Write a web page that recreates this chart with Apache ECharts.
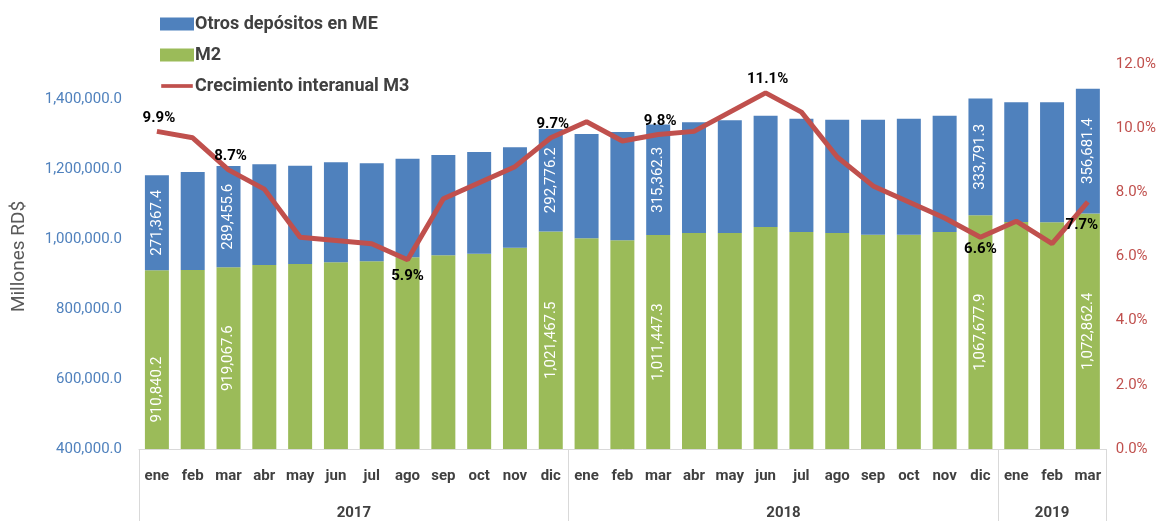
<!DOCTYPE html>
<html>
<head>
<meta charset="utf-8">
<script src="https://cdn.jsdelivr.net/npm/echarts@6/dist/echarts.min.js"></script>
<style>
  html, body { margin: 0; padding: 0; background: #ffffff; }
  #chart { width: 1159px; height: 521px; }
</style>
</head>
<body>
<div id="chart"></div>
<script>
// Monthly categories, grouped by year
const months = ['ene','feb','mar','abr','may','jun','jul','ago','sep','oct','nov','dic',
                'ene','feb','mar','abr','may','jun','jul','ago','sep','oct','nov','dic',
                'ene','feb','mar'];
const years = ['2017', '2018', '2019'];
const yearSizes = [12, 12, 3];

// M2 (millones RD$)
const m2 = [910840.2, 911400, 919067.6, 925700, 928600, 933400, 936300, 947700, 953400, 958000, 975100, 1021467.5,
            1002000, 996300, 1011447.3, 1017100, 1017100, 1034300, 1020000, 1017100, 1012400, 1012400, 1020000, 1067677.9,
            1048500, 1048000, 1072862.4];

// Otros depósitos en moneda extranjera (millones RD$)
const otrosME = [271367.4, 280000, 289455.6, 287700, 280800, 285700, 279900, 281700, 286600, 290600, 286900, 292776.2,
                 298000, 309400, 315362.3, 316200, 321900, 318100, 323800, 323700, 328400, 331400, 332400, 333791.3,
                 342000, 342500, 356681.4];

// Crecimiento interanual de M3 (%)
const crecimientoM3 = [9.9, 9.7, 8.7, 8.1, 6.6, 6.5, 6.4, 5.9, 7.8, 8.3, 8.8, 9.7,
                       10.2, 9.6, 9.8, 9.9, 10.5, 11.1, 10.5, 9.1, 8.2, 7.7, 7.2, 6.6,
                       7.1, 6.4, 7.7];

// Left and right axis ticks
const leftTicks = { min: 400000, max: 1500000, step: 200000 };
const rightTicks = { min: 0, max: 12, step: 2 };

// Which points carry value labels
const barLabelIdx = [0, 2, 11, 14, 23, 26];
const growthLabelPos = { 0: 'top', 2: 'top', 7: 'bottom', 11: 'top', 14: 'top', 17: 'top', 23: 'bottom', 26: 'bottom' };

const FONT = 'Roboto, "Open Sans", sans-serif';
const numFmt = new Intl.NumberFormat('en-US', { minimumFractionDigits: 1, maximumFractionDigits: 1 });

// Year group boundaries and centers on a continuous index scale
const bounds = [-0.5];
const centers = [];
let acc = 0;
yearSizes.forEach(n => { centers.push(acc + (n - 1) / 2); acc += n; bounds.push(acc - 0.5); });

function barData(values, extra) {
  return values.map((v, i) => {
    if (barLabelIdx.indexOf(i) < 0) return v;
    const item = { value: v, label: { show: true } };
    if (extra && extra[i]) Object.assign(item.label, extra[i]);
    return item;
  });
}

const lineData = crecimientoM3.map((v, i) => {
  const pos = growthLabelPos[i];
  if (!pos) return v;
  const item = { value: v, label: { show: true, position: pos } };
  if (pos === 'top') item.label.offset = [2, 0];
  if (i === 7) item.label.offset = [0, 3];
  if (i === 23) item.label.offset = [0, -2];
  if (i === 26) item.label.offset = [-6, 10];
  return item;
});

// Legend marker for the growth line: a thick stroke inside a 34x14 box
const lineIcon = 'path://M0,0 M0,5 L34,5 L34,9 L0,9 Z M34,14';

const chart = echarts.init(document.getElementById('chart'), null, { renderer: 'canvas' });

chart.setOption({
  animation: false,
  textStyle: { fontFamily: FONT },
  legend: {
    orient: 'vertical',
    left: 155,
    top: 10,
    itemWidth: 34,
    itemHeight: 13,
    itemGap: 13,
    textStyle: { fontSize: 18, fontWeight: 'bold', color: '#404040', fontFamily: FONT, padding: [0, 0, 0, -4] },
    data: [
      { name: 'Otros depósitos en ME', icon: 'rect' },
      { name: 'M2', icon: 'rect' },
      { name: 'Crecimiento interanual M3', icon: lineIcon }
    ]
  },
  grid: { left: 139, right: 50, top: 64, bottom: 72 },
  xAxis: [
    {
      type: 'category',
      data: months,
      axisLine: { show: false },
      axisTick: { show: false },
      axisLabel: { color: '#404040', fontSize: 15, fontWeight: 'bold', margin: 20, interval: 0, fontFamily: FONT },
      splitLine: { show: false }
    },
    {
      type: 'value',
      position: 'bottom',
      min: -0.5,
      max: months.length - 0.5,
      axisLine: { show: true, lineStyle: { color: '#d9d9d9', width: 1 } },
      axisTick: { show: true, customValues: bounds, length: 72, lineStyle: { color: '#d9d9d9', width: 1 } },
      axisLabel: {
        customValues: centers,
        margin: 57,
        color: '#404040',
        fontSize: 15,
        fontWeight: 'bold',
        fontFamily: FONT,
        formatter: v => { const k = centers.findIndex(c => Math.abs(c - v) < 1e-6); return k >= 0 ? years[k] : ''; }
      },
      splitLine: { show: false }
    }
  ],
  yAxis: [
    {
      type: 'value',
      min: leftTicks.min,
      max: leftTicks.max,
      interval: leftTicks.step,
      name: 'Millones RD$',
      nameLocation: 'middle',
      nameGap: 110,
      nameRotate: 90,
      nameTextStyle: { fontSize: 19, color: '#595959', fontFamily: FONT },
      axisLine: { show: false },
      axisTick: { show: false },
      splitLine: { show: false },
      axisLabel: {
        color: '#4F81BD', fontSize: 15, margin: 17, showMaxLabel: false, fontFamily: FONT,
        formatter: v => numFmt.format(v)
      }
    },
    {
      type: 'value',
      min: rightTicks.min,
      max: rightTicks.max,
      interval: rightTicks.step,
      position: 'right',
      axisLine: { show: false },
      axisTick: { show: false },
      splitLine: { show: false },
      axisLabel: {
        color: '#C0504D', fontSize: 15, margin: 10, fontFamily: FONT,
        formatter: v => v.toFixed(1) + '%'
      }
    }
  ],
  series: [
    {
      name: 'M2',
      type: 'bar',
      stack: 'm3',
      barWidth: '67%',
      itemStyle: { color: '#9BBB59' },
      label: {
        show: false, position: 'inside', rotate: 90, color: '#ffffff', fontSize: 15, fontFamily: FONT,
        formatter: p => numFmt.format(p.value)
      },
      data: barData(m2, { 0: { offset: [-30, 0] } })
    },
    {
      name: 'Otros depósitos en ME',
      type: 'bar',
      stack: 'm3',
      barWidth: '67%',
      itemStyle: { color: '#4F81BD' },
      label: {
        show: false, position: 'inside', rotate: 90, color: '#ffffff', fontSize: 15, fontFamily: FONT,
        formatter: p => numFmt.format(p.value)
      },
      data: barData(otrosME)
    },
    {
      name: 'Crecimiento interanual M3',
      type: 'line',
      yAxisIndex: 1,
      symbol: 'circle',
      symbolSize: 0,
      showSymbol: true,
      z: 5,
      lineStyle: { color: '#C0504D', width: 5 },
      itemStyle: { color: '#C0504D' },
      label: {
        show: false, color: '#000000', fontSize: 15, fontWeight: 'bold', distance: 6, fontFamily: FONT,
        formatter: p => p.value.toFixed(1) + '%'
      },
      data: lineData
    }
  ]
});
</script>
</body>
</html>
